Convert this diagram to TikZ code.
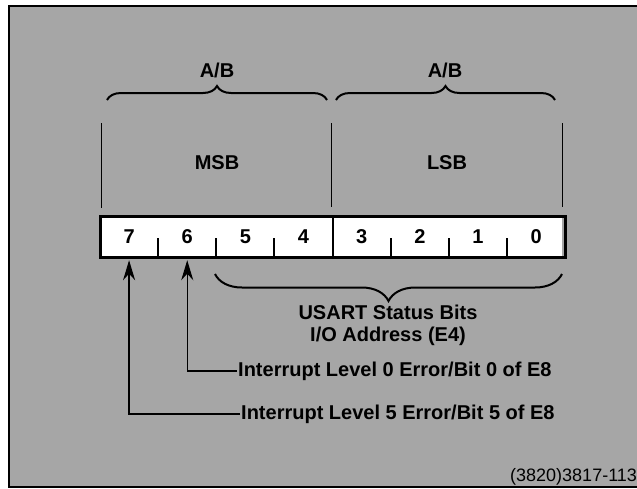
\documentclass[tikz,border=0pt]{standalone}
\usepackage{fontspec}
\setmainfont{Liberation Sans}
\usetikzlibrary{arrows.meta,decorations.pathreplacing,calc}
\definecolor{bggray}{gray}{0.65}
\tikzset{
  lbl/.style={font=\fontsize{20}{22}\selectfont\bfseries, inner sep=1pt},
  digit/.style={font=\fontsize{20}{22}\selectfont\bfseries, minimum width=57.75pt, minimum height=40pt, inner sep=0pt, anchor=west},
  bracestyle/.style={decorate, decoration={brace, amplitude=14pt, aspect=0.5}, line width=2pt},
  guide/.style={line width=1pt},
  pointer/.style={line width=1.2pt, -{Stealth[length=20pt,width=12pt]}},
  tick/.style={line width=2pt}
}
\begin{document}
\begin{tikzpicture}[x=1pt,y=-1pt]
\useasboundingbox (0,0) rectangle (637,488);
\fill[white] (0,0) rectangle (637,488);
\fill[bggray] (9,6) rectangle (645,487);
\draw[line width=2.5pt] (645,6) -- (9,6) -- (9,487) -- (645,487);

% register box
\coordinate (regnw) at (100,217);
\coordinate (regse) at (562,257);
\fill[white] (regnw) rectangle (regse);
\node[digit] (c7) at (100,237) {7};
\node[digit] (c6) at (c7.east) {6};
\node[digit] (c5) at (c6.east) {5};
\node[digit] (c4) at (c5.east) {4};
\node[digit] (c3) at (c4.east) {3};
\node[digit] (c2) at (c3.east) {2};
\node[digit] (c1) at (c2.east) {1};
\node[digit] (c0) at (c1.east) {0};
\draw[line width=3pt] (c7.north west) rectangle (c0.south east);
\draw[tick] (c4.north east) -- (c4.south east);
\foreach \n in {7,6,5,3,2,1} {\draw[tick] (c\n.south east) -- ++(0,-19);}

% vertical guides
\coordinate (gL) at (101,123);
\coordinate (gM) at (331,123);
\coordinate (gR) at (562,123);
\draw[guide] (gL) -- (101,208);
\draw[guide] (gM) -- (331,207);
\draw[guide] (gR) -- (562,207);

% top braces
\coordinate (bl1) at (107,100);
\coordinate (bl2) at (327,100);
\coordinate (br1) at (336,100);
\coordinate (br2) at (555,100);
\draw[bracestyle] (bl1) -- (bl2);
\draw[bracestyle] (br1) -- (br2);
\node[lbl] (ab1) at (217,70) {A/B};
\node[lbl] (ab2) at (445,70) {A/B};
\node[lbl] (msb) at (217,163) {MSB};
\node[lbl] (lsb) at (447,163) {LSB};

% bottom brace
\coordinate (bb1) at (562,274);
\coordinate (bb2) at (215,274);
\draw[bracestyle, decoration={amplitude=27pt}] (bb1) -- (bb2);
\node[lbl, align=center] (usart) at (388,325) {USART Status Bits\\I/O Address (E4)};

% interrupt labels
\node[lbl, anchor=west] (int0) at (237,371) {Interrupt Level 0 Error/Bit 0 of E8};
\node[lbl, anchor=west] (int5) at (240,414) {Interrupt Level 5 Error/Bit 5 of E8};
\draw[pointer, shorten >=3pt] (int0.west) -| (c6.south);
\draw[pointer, shorten >=3pt] (int5.west) -| (c7.south);

\node[font=\fontsize{18}{20}\selectfont, anchor=west, inner sep=0pt] (ref) at (510,477) {(3820)3817-113};
\end{tikzpicture}
\end{document}
